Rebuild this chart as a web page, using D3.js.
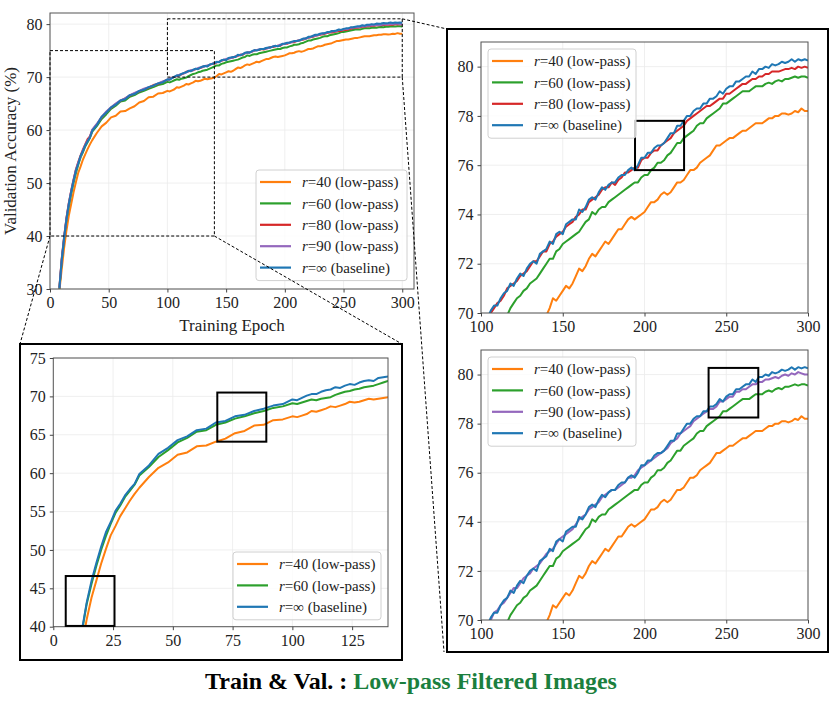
<!DOCTYPE html>
<html>
<head>
<meta charset="utf-8">
<script src="https://cdn.jsdelivr.net/npm/d3@7"></script>
<style>
    body { margin: 0; background: #fff; }
    svg text { font-family: "Liberation Serif", "Times New Roman", serif; }
</style>
</head>
<body>
<svg id="fig" width="830" height="701"></svg>
<script>
'use strict';

var epochs = [8, 10, 12, 14, 16, 18, 20, 22, 24, 26, 28, 30, 32, 34,
    36, 40, 44, 48, 52, 56, 60, 64, 68, 72, 76, 80, 84, 88, 92, 96,
    100, 102, 104, 106, 108, 110, 112, 114, 116, 118,
    120, 122, 124, 126, 128, 130, 132, 134, 136, 138,
    140, 142, 144, 146, 148, 150, 152, 154, 156, 158,
    160, 162, 164, 166, 168, 170, 172, 174, 176, 178,
    180, 182, 184, 186, 188, 190, 192, 194, 196, 198,
    200, 202, 204, 206, 208, 210, 212, 214, 216, 218,
    220, 222, 224, 226, 228, 230, 232, 234, 236, 238,
    240, 242, 244, 246, 248, 250, 252, 254, 256, 258,
    260, 262, 264, 266, 268, 270, 272, 274, 276, 278,
    280, 282, 284, 286, 288, 290, 292, 294, 296, 298,
    300];

var accR40 = [29.6, 33.8, 37.7, 41.0, 43.8, 46.0, 48.2, 50.1, 51.9, 53.1, 54.4, 55.4, 56.4, 57.3,
    58.1, 59.5, 60.7, 61.4, 62.4, 62.7, 63.5, 63.6, 64.1, 64.5, 65.2, 65.5, 66.2, 66.3, 66.9, 67.0,
    67.4, 67.3, 67.5, 67.7, 68.1, 68.0, 68.2, 68.4, 68.7, 68.6,
    68.8, 69.0, 69.3, 69.2, 69.3, 69.5, 69.7, 69.6, 69.7, 69.8,
    69.9, 70.2, 70.6, 70.5, 70.7, 70.9, 71.1, 71.0, 71.2, 71.5,
    71.8, 71.7, 71.9, 72.2, 72.4, 72.3, 72.5, 72.7, 72.9, 72.8,
    73.0, 73.2, 73.4, 73.4, 73.6, 73.8, 73.9, 73.8, 73.9, 74.0,
    74.1, 74.3, 74.5, 74.5, 74.6, 74.8, 74.9, 74.8, 74.9, 75.1,
    75.3, 75.3, 75.4, 75.6, 75.8, 75.8, 75.9, 76.1, 76.2, 76.3,
    76.4, 76.6, 76.8, 76.8, 76.9, 77.0, 77.1, 77.1, 77.2, 77.3,
    77.4, 77.4, 77.5, 77.6, 77.7, 77.7, 77.7, 77.8, 77.9, 77.9,
    78.0, 78.0, 78.1, 78.1, 78.05, 78.1, 78.2, 78.15, 78.3, 78.2,
    78.2];

var accR60 = [30.0, 35.3, 39.4, 43.0, 45.6, 47.9, 50.0, 51.8, 53.4, 54.8, 55.8, 56.9, 57.7, 58.5,
    59.7, 60.8, 62.1, 63.0, 64.0, 64.6, 65.4, 65.6, 66.3, 66.6, 67.1, 67.4, 67.8, 68.1, 68.5, 68.7,
    69.1, 69.0, 69.2, 69.4, 69.6, 69.5, 69.7, 69.8, 69.9, 70.2,
    70.4, 70.6, 70.7, 70.9, 71.0, 71.2, 71.3, 71.4, 71.6, 71.8,
    72.0, 72.2, 72.2, 72.5, 72.6, 72.8, 72.9, 73.0, 73.1, 73.2,
    73.3, 73.5, 73.7, 73.8, 74.1, 74.0, 74.2, 74.3, 74.3, 74.5,
    74.6, 74.7, 74.8, 74.9, 75.0, 75.1, 75.2, 75.3, 75.3, 75.5,
    75.6, 75.6, 75.8, 75.9, 76.1, 76.1, 76.2, 76.4, 76.5, 76.7,
    76.9, 76.9, 77.1, 77.2, 77.3, 77.4, 77.6, 77.7, 77.7, 77.9,
    78.0, 78.1, 78.2, 78.3, 78.5, 78.5, 78.6, 78.7, 78.8, 78.9,
    79.0, 79.0, 79.0, 79.1, 79.2, 79.2, 79.2, 79.3, 79.35, 79.3,
    79.4, 79.45, 79.4, 79.5, 79.5, 79.55, 79.6, 79.55, 79.6, 79.6,
    79.55];

var accR80 = [30.3, 35.8, 39.8, 43.4, 46.2, 48.5, 50.6, 52.5, 53.9, 55.2, 56.3, 57.3, 58.3, 58.8,
    60.0, 61.1, 62.4, 63.4, 64.2, 64.9, 65.5, 66.0, 66.5, 66.9, 67.3, 67.7, 68.0, 68.5, 68.7, 69.1,
    69.5, 69.6, 69.9, 70.0, 70.2, 70.4, 70.5, 70.7, 71.0, 71.1,
    71.2, 71.3, 71.5, 71.6, 71.7, 71.9, 72.1, 72.1, 72.3, 72.5,
    72.5, 72.8, 72.9, 73.1, 73.2, 73.3, 73.5, 73.6, 73.7, 73.9,
    74.0, 74.2, 74.2, 74.5, 74.6, 74.7, 74.8, 75.0, 75.1, 75.1,
    75.3, 75.2, 75.4, 75.5, 75.7, 75.7, 75.8, 75.9, 75.9, 76.2,
    76.3, 76.3, 76.5, 76.6, 76.6, 76.8, 76.9, 77.0, 77.1, 77.3,
    77.4, 77.5, 77.6, 77.8, 77.9, 78.0, 78.1, 78.2, 78.3, 78.4,
    78.4, 78.5, 78.6, 78.7, 78.7, 78.9, 78.9, 79.0, 79.1, 79.2,
    79.3, 79.3, 79.4, 79.5, 79.5, 79.6, 79.6, 79.7, 79.7, 79.8,
    79.8, 79.8, 79.85, 79.9, 79.9, 79.95, 79.9, 80.0, 79.95, 80.0,
    79.95];

var accR90 = [30.1, 35.6, 39.7, 43.3, 46.1, 48.4, 50.5, 52.4, 53.8, 55.0, 56.1, 57.2, 58.0, 58.7,
    60.1, 61.2, 62.5, 63.5, 64.3, 65.0, 65.6, 66.0, 66.6, 67.0, 67.4, 67.8, 68.1, 68.4, 68.8, 69.2,
    69.5, 69.7, 69.9, 70.0, 70.3, 70.4, 70.6, 70.7, 70.9, 71.1,
    71.3, 71.3, 71.5, 71.7, 71.8, 71.9, 72.1, 72.2, 72.3, 72.5,
    72.7, 72.8, 72.9, 73.1, 73.3, 73.4, 73.5, 73.6, 73.7, 73.9,
    74.1, 74.2, 74.3, 74.5, 74.6, 74.7, 74.8, 75.0, 75.1, 75.2,
    75.3, 75.3, 75.4, 75.5, 75.6, 75.8, 75.8, 75.9, 76.1, 76.2,
    76.3, 76.4, 76.5, 76.6, 76.7, 76.8, 76.9, 77.0, 77.2, 77.3,
    77.4, 77.6, 77.7, 77.8, 77.9, 78.1, 78.2, 78.3, 78.4, 78.5,
    78.6, 78.6, 78.7, 78.9, 78.9, 79.0, 79.1, 79.1, 79.3, 79.3,
    79.4, 79.4, 79.5, 79.6, 79.6, 79.7, 79.7, 79.8, 79.8, 79.85,
    79.9, 79.85, 79.95, 80.0, 79.95, 80.05, 80.0, 80.1, 80.05, 80.0,
    80.0];

var accBase = [30.2, 35.5, 39.6, 43.2, 46.0, 48.3, 50.4, 52.3, 53.6, 55.1, 56.0, 57.1, 57.9, 58.6,
    59.9, 61.0, 62.5, 63.3, 64.3, 64.8, 65.6, 65.8, 66.6, 66.8, 67.4, 67.6, 68.1, 68.4, 68.8, 69.0,
    69.6, 69.5, 69.8, 70.1, 70.3, 70.3, 70.6, 70.8, 70.9, 71.2,
    71.1, 71.4, 71.6, 71.5, 71.8, 72.0, 72.1, 72.0, 72.4, 72.5,
    72.6, 72.9, 72.8, 73.2, 73.3, 73.2, 73.6, 73.7, 73.8, 73.8,
    74.2, 74.1, 74.3, 74.6, 74.7, 74.6, 74.9, 75.1, 75.0, 75.2,
    75.3, 75.3, 75.5, 75.6, 75.6, 75.8, 75.9, 75.8, 76.0, 76.3,
    76.3, 76.5, 76.5, 76.7, 76.8, 76.8, 76.9, 77.1, 77.3, 77.3,
    77.6, 77.6, 77.8, 78.0, 78.0, 78.2, 78.3, 78.3, 78.5, 78.5,
    78.7, 78.7, 78.8, 79.0, 78.9, 79.1, 79.2, 79.2, 79.4, 79.4,
    79.5, 79.6, 79.6, 79.8, 79.7, 79.9, 79.9, 80.0, 79.95, 80.1,
    80.05, 80.1, 80.2, 80.15, 80.2, 80.3, 80.2, 80.3, 80.25, 80.3,
    80.25];

var seriesKeys = ['r40', 'r60', 'r80', 'r90', 'base'];
var seriesLabels = ['=40 (low-pass)', '=60 (low-pass)', '=80 (low-pass)', '=90 (low-pass)', '=\u221E (baseline)'];
var seriesValues = [accR40, accR60, accR80, accR90, accBase];
var seriesColors = ['#ff7f0e', '#2ca02c', '#d62728', '#9467bd', '#1f77b4'];

var mainXTicks = [0, 50, 100, 150, 200, 250, 300];
var mainYTicks = [30, 40, 50, 60, 70, 80];
var insetXTicks = [0, 25, 50, 75, 100, 125];
var insetYTicks = [40, 45, 50, 55, 60, 65, 70, 75];
var zoomXTicks = [100, 150, 200, 250, 300];
var zoomYTicks = [70, 72, 74, 76, 78, 80];

// regions marked in the overview chart: [x0, x1, y0, y1]
var earlyRegion = [0, 140, 40, 75];
var lateRegion = [100, 300, 70, 81];
// small solid boxes inside the zoomed panels
var insetBoxes = [[5.2, 25.6, 40.1, 46.6], [68.6, 89.1, 64.1, 70.5]];
var topRightBoxes = [[194.2, 224.2, 75.8, 77.8]];
var bottomRightBoxes = [[239.2, 269.6, 78.25, 80.27]];

var svg = d3.select('#fig');
var font = 16;

function series(keys) {
    return keys.map(function (k) {
        var i = seriesKeys.indexOf(k);
        return {
            key: k,
            label: seriesLabels[i],
            color: seriesColors[i],
            points: d3.zip(epochs, seriesValues[i])
        };
    });
}

function panel(opts) {
    var x = d3.scaleLinear().domain(opts.xDomain).range([opts.left, opts.left + opts.width]),
        y = d3.scaleLinear().domain(opts.yDomain).range([opts.top + opts.height, opts.top]),
        g = svg.append('g'),
        data = series(opts.keys),
        clipId = 'clip-' + opts.id,
        line,
        ax;

    svg.append('clipPath').attr('id', clipId)
        .append('rect')
        .attr('x', opts.left).attr('y', opts.top)
        .attr('width', opts.width).attr('height', opts.height);

    // grid
    g.selectAll('.gx').data(opts.xTicks).enter().append('line')
        .attr('x1', x).attr('x2', x)
        .attr('y1', opts.top).attr('y2', opts.top + opts.height)
        .attr('stroke', '#ebebeb').attr('stroke-width', 0.8);
    g.selectAll('.gy').data(opts.yTicks).enter().append('line')
        .attr('y1', y).attr('y2', y)
        .attr('x1', opts.left).attr('x2', opts.left + opts.width)
        .attr('stroke', '#ebebeb').attr('stroke-width', 0.8);

    line = d3.line()
        .x(function (d) { return x(d[0]); })
        .y(function (d) { return y(d[1]); });

    g.append('g').attr('clip-path', 'url(#' + clipId + ')')
        .selectAll('path').data(data).enter().append('path')
        .attr('d', function (d) { return line(d.points); })
        .attr('fill', 'none')
        .attr('stroke', function (d) { return d.color; })
        .attr('stroke-width', 2)
        .attr('stroke-linejoin', 'round');

    // spines
    g.append('rect')
        .attr('x', opts.left).attr('y', opts.top)
        .attr('width', opts.width).attr('height', opts.height)
        .attr('fill', 'none').attr('stroke', '#555').attr('stroke-width', 1);

    ax = g.append('g')
        .attr('transform', 'translate(0,' + (opts.top + opts.height) + ')')
        .call(d3.axisBottom(x).tickValues(opts.xTicks).tickSize(3.5).tickSizeOuter(0).tickPadding(4));
    styleAxis(ax);
    ax = g.append('g')
        .attr('transform', 'translate(' + opts.left + ',0)')
        .call(d3.axisLeft(y).tickValues(opts.yTicks).tickSize(3.5).tickSizeOuter(0).tickPadding(4));
    styleAxis(ax);

    (opts.boxes || []).forEach(function (b) {
        g.append('rect')
            .attr('x', x(b[0])).attr('y', y(b[3]))
            .attr('width', x(b[1]) - x(b[0])).attr('height', y(b[2]) - y(b[3]))
            .attr('fill', 'none').attr('stroke', '#000').attr('stroke-width', 2);
    });

    legend(g, opts.legend, data);

    return { x: x, y: y, g: g };
}

function styleAxis(ax) {
    ax.attr('font-family', null);
    ax.select('.domain').remove();
    ax.selectAll('line').attr('stroke', '#444');
    ax.selectAll('text')
        .attr('font-size', font)
        .attr('fill', '#222')
        .style('font-family', '"Liberation Serif", serif');
}

function legend(g, pos, data) {
    var rowH = 21.4,
        h = 24 + rowH * (data.length - 1) + 1,
        lg = g.append('g').attr('transform', 'translate(' + pos.x + ',' + pos.y + ')'),
        rows;

    lg.append('rect')
        .attr('width', pos.w).attr('height', h)
        .attr('rx', 3)
        .attr('fill', '#fff').attr('fill-opacity', 0.8)
        .attr('stroke', '#d0d0d0').attr('stroke-width', 1);

    rows = lg.selectAll('.row').data(data).enter().append('g')
        .attr('transform', function (d, i) { return 'translate(0,' + (12 + i * rowH) + ')'; });
    rows.append('line')
        .attr('x1', 4).attr('x2', 35)
        .attr('stroke', function (d) { return d.color; })
        .attr('stroke-width', 2.2);
    rows.append('text')
        .attr('x', 46).attr('dy', '0.35em')
        .attr('font-size', 15).attr('fill', '#222')
        .each(function (d) {
            var t = d3.select(this);
            t.append('tspan').attr('font-style', 'italic').text('r');
            t.append('tspan').text(d.label);
        });
}

// overview chart
var main = panel({
    id: 'main', left: 50, top: 13, width: 364, height: 276,
    xDomain: [0, 310], yDomain: [30, 82.1],
    xTicks: mainXTicks, yTicks: mainYTicks,
    keys: ['r40', 'r60', 'r80', 'r90', 'base'],
    legend: { x: 256, y: 170, w: 151 }
});

svg.append('text')
    .attr('x', 232).attr('y', 331)
    .attr('text-anchor', 'middle').attr('font-size', 17).attr('fill', '#222')
    .text('Training Epoch');
svg.append('text')
    .attr('transform', 'translate(16,151) rotate(-90)')
    .attr('text-anchor', 'middle').attr('font-size', 17).attr('fill', '#222')
    .text('Validation Accuracy (%)');

// zoomed panels
var insetFrame = { x0: 20, y0: 344, x1: 402, y1: 660 };
var rightFrame = { x0: 447, y0: 29, x1: 828, y1: 652 };

[insetFrame, rightFrame].forEach(function (f) {
    svg.append('rect')
        .attr('x', f.x0).attr('y', f.y0)
        .attr('width', f.x1 - f.x0).attr('height', f.y1 - f.y0)
        .attr('fill', 'none').attr('stroke', '#000').attr('stroke-width', 2);
});

panel({
    id: 'inset', left: 53.3, top: 358, width: 334.7, height: 268.7,
    xDomain: [0, 140], yDomain: [40, 75],
    xTicks: insetXTicks, yTicks: insetYTicks,
    keys: ['r40', 'r60', 'base'],
    boxes: insetBoxes,
    legend: { x: 233, y: 552, w: 148 }
});

panel({
    id: 'rtop', left: 481, top: 42, width: 327, height: 271,
    xDomain: [100, 300], yDomain: [70, 81],
    xTicks: zoomXTicks, yTicks: zoomYTicks,
    keys: ['r40', 'r60', 'r80', 'base'],
    boxes: topRightBoxes,
    legend: { x: 488, y: 49, w: 148 }
});

panel({
    id: 'rbot', left: 481, top: 350, width: 327, height: 270,
    xDomain: [100, 300], yDomain: [70, 81],
    xTicks: zoomXTicks, yTicks: zoomYTicks,
    keys: ['r40', 'r60', 'r90', 'base'],
    boxes: bottomRightBoxes,
    legend: { x: 488, y: 357, w: 148 }
});

// dashed regions in the overview and the connectors to the zoomed panels
var dash = svg.append('g')
    .attr('fill', 'none').attr('stroke', '#000')
    .attr('stroke-width', 1).attr('stroke-dasharray', '3,2');

[earlyRegion, lateRegion].forEach(function (r) {
    dash.append('rect')
        .attr('x', main.x(r[0])).attr('y', main.y(r[3]))
        .attr('width', main.x(r[1]) - main.x(r[0]))
        .attr('height', main.y(r[2]) - main.y(r[3]));
});

var connectors = [
    [main.x(earlyRegion[0]), main.y(earlyRegion[2]), insetFrame.x0, insetFrame.y0],
    [main.x(earlyRegion[1]), main.y(earlyRegion[2]), insetFrame.x1, insetFrame.y0],
    [main.x(lateRegion[1]), main.y(lateRegion[3]), rightFrame.x0, rightFrame.y0],
    [main.x(lateRegion[1]), main.y(lateRegion[2]), rightFrame.x0 - 3, rightFrame.y1]
];
dash.selectAll('line').data(connectors).enter().append('line')
    .attr('x1', function (d) { return d[0]; })
    .attr('y1', function (d) { return d[1]; })
    .attr('x2', function (d) { return d[2]; })
    .attr('y2', function (d) { return d[3]; });

// caption
var cap = svg.append('text')
    .attr('x', 411).attr('y', 689)
    .attr('text-anchor', 'middle')
    .attr('font-size', 24).attr('font-weight', 'bold');
cap.append('tspan').attr('fill', '#000').text('Train & Val. : ');
cap.append('tspan').attr('fill', '#1b7f3e').text('Low-pass Filtered Images');
</script>
</body>
</html>
